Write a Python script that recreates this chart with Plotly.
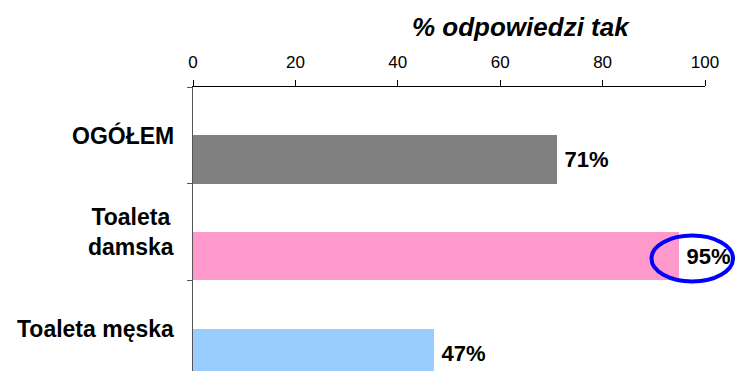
import plotly.graph_objects as go

# Survey results: share of "yes" answers
categories = ["OGÓŁEM", "Toaleta<br>damska", "Toaleta męska"]
values = [71, 95, 47]
bar_colors = ["#808080", "#FF99CC", "#99CCFF"]
x_ticks = [0, 20, 40, 60, 80, 100]
axis_title = "% odpowiedzi tak"

FONT = "Liberation Sans, Arial, sans-serif"
positions = list(range(len(categories)))

fig = go.Figure()
fig.add_trace(go.Bar(
    x=values,
    y=positions,
    orientation="h",
    width=0.5,
    offset=0,
    marker=dict(color=bar_colors, line=dict(width=0)),
    text=[f"<b>\u2009{v}%</b>" for v in values],
    textposition="outside",
    textfont=dict(family=FONT, size=22, color="#000000"),
    cliponaxis=False,
    hoverinfo="skip",
))

# Category labels, centred line by line to the left of the axis
for pos, label in zip(positions, categories):
    fig.add_annotation(
        x=0, xref="paper", y=pos, yref="y",
        text=f"<b>{label}</b>",
        xanchor="right", yanchor="middle", align="center",
        xshift=-17, showarrow=False,
        font=dict(family=FONT, size=23, color="#000000"),
    )

# Axis title above the top axis
fig.add_annotation(
    x=0.6406, xref="paper", y=1.211, yref="paper",
    text=f"<b><i>{axis_title}</i></b>",
    xanchor="center", yanchor="middle", showarrow=False,
    font=dict(family=FONT, size=26, color="#000000"),
)

# Highlight ring around the 95% label
fig.add_shape(
    type="circle", xref="paper", yref="paper",
    x0=0.8955, x1=1.0547, y0=0.3151, y1=0.4771,
    line=dict(color="#0000FF", width=4),
    fillcolor="rgba(0,0,0,0)",
)

fig.update_layout(
    width=735, height=371,
    margin=dict(l=193, r=30, t=87, b=0, pad=0),
    paper_bgcolor="#FFFFFF",
    plot_bgcolor="#FFFFFF",
    showlegend=False,
    bargap=0,
    xaxis=dict(
        side="top",
        range=[0, 100],
        tickmode="array",
        tickvals=x_ticks,
        ticktext=[str(t) for t in x_ticks],
        ticks="outside", ticklen=6, tickwidth=1, tickcolor="#000000",
        ticklabelstandoff=5,
        showline=True, linecolor="#000000", linewidth=1,
        showgrid=False, zeroline=False,
        tickfont=dict(family=FONT, size=17, color="#000000"),
        fixedrange=True,
    ),
    yaxis=dict(
        range=[2.438, -0.5],
        showticklabels=False,
        ticks="",
        showline=True, linecolor="#555555", linewidth=1,
        showgrid=False, zeroline=False,
        minor=dict(
            tickmode="array", tickvals=[-0.5, 0.5, 1.5],
            ticks="outside", ticklen=5, tickwidth=1, tickcolor="#555555",
            showgrid=False,
        ),
        fixedrange=True,
    ),
)

fig.write_html("out.html")
